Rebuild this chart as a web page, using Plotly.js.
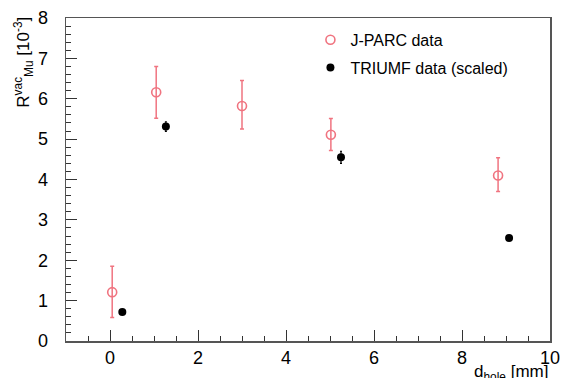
<!DOCTYPE html>
<html><head><meta charset="utf-8">
<script src="https://cdn.plot.ly/plotly-3.0.1.min.js"></script>
<style>body{margin:0;background:#fff}#c{width:564px;height:378px}</style>
</head><body><div id="c"></div>
<script>
const jparcX = [0.05, 1.05, 3.0, 5.02, 8.82];
const jparcY = [1.21, 6.16, 5.82, 5.11, 4.10];
const jparcErrUp = [0.64, 0.64, 0.63, 0.40, 0.44];
const jparcErrDown = [0.63, 0.64, 0.57, 0.39, 0.40];
const triumfX = [0.28, 1.27, 5.25, 9.07];
const triumfY = [0.72, 5.31, 4.55, 2.55];
const triumfErr = [0.03, 0.12, 0.15, 0.04];

const red = '#f07480';
const font = 'Liberation Sans, Arial, sans-serif';

const traces = [
  {x: jparcX, y: jparcY, mode: 'markers', type: 'scatter', name: 'J-PARC data', legendgroup: 'a',
   marker: {symbol: 'circle-open', size: 9, color: red, line: {width: 1.6, color: red}},
   error_y: {type: 'data', symmetric: false, array: jparcErrUp, arrayminus: jparcErrDown, color: red, thickness: 1.5, width: 2}},
  {x: triumfX, y: triumfY, mode: 'markers', type: 'scatter', name: 'TRIUMF data (scaled)', legendgroup: 'b',
   marker: {symbol: 'circle', size: 8, color: '#000'},
   error_y: {type: 'data', array: triumfErr, color: '#000', thickness: 1.2, width: 1}}
];

const layout = {
  width: 564, height: 378,
  margin: {l: 66, r: 14, t: 18, b: 37},
  paper_bgcolor: '#fff', plot_bgcolor: '#fff',
  font: {family: font, color: '#000', size: 17},
  showlegend: true,
  legend: {x: 0.505, y: 0.985, xanchor: 'left', yanchor: 'top', bgcolor: 'rgba(0,0,0,0)',
           font: {size: 16, family: font}, traceorder: 'grouped', tracegroupgap: 4, itemwidth: 30},
  xaxis: {range: [-1, 10], dtick: 2, tick0: 0, ticks: 'inside', ticklen: 11, tickcolor: '#333', tickwidth: 1,
          showline: true, linecolor: '#555', linewidth: 1.5, mirror: true, showgrid: false, zeroline: false,
          minor: {dtick: 0.5, tick0: 0, ticks: 'inside', ticklen: 5, tickcolor: '#333', showgrid: false},
          tickfont: {size: 18}},
  yaxis: {range: [0, 8], dtick: 1, ticks: 'inside', ticklen: 11, tickcolor: '#333', tickwidth: 1,
          showline: true, linecolor: '#555', linewidth: 1.5, mirror: true, showgrid: false, zeroline: false,
          minor: {dtick: 0.2, ticks: 'inside', ticklen: 5, tickcolor: '#333', showgrid: false},
          tickfont: {size: 18}, ticklabelstandoff: 13},
  annotations: [
    {text: 'R<sup>vac</sup><sub>Mu</sub> [10<sup>-3</sup>]', xref: 'paper', yref: 'paper', x: -0.088, y: 1.01,
     xanchor: 'center', yanchor: 'top', textangle: -90, showarrow: false, font: {size: 17, family: font}},
    {text: 'd<sub>hole</sub> [mm]', xref: 'paper', yref: 'paper', x: 1, y: -0.06,
     xanchor: 'right', yanchor: 'top', showarrow: false, font: {size: 17, family: font}}
  ]
};
Plotly.newPlot('c', traces, layout, {displayModeBar: false, staticPlot: true});
</script></body></html>
